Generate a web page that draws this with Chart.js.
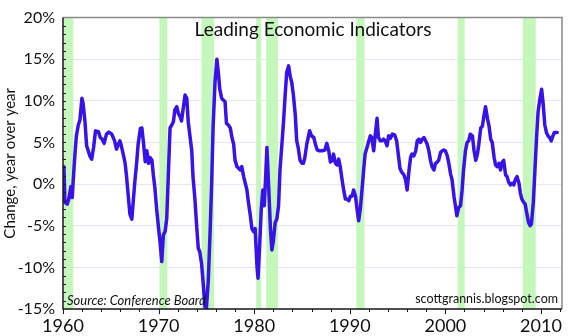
<!DOCTYPE html>
<html>
<head>
<meta charset="utf-8">
<script src="https://cdn.jsdelivr.net/npm/chart.js@4.4.1/dist/chart.umd.min.js"></script>
<style>
  html, body { margin: 0; padding: 0; background: #fff; }
  #wrap { width: 574px; height: 336px; }
</style>
</head>
<body>
<div id="wrap"><canvas id="leiChart" width="574" height="336"></canvas></div>
<script>
// --- Leading Economic Indicators, year over year change ---

// decimal year of each reading
const dates = [
    1960.1, 1960.2, 1960.45, 1960.6, 1960.83, 1960.97, 1961.05, 1961.25, 1961.4, 1961.6,
    1961.77, 1961.98, 1962.1, 1962.3, 1962.47, 1962.64, 1962.8, 1963.0, 1963.2, 1963.4,
    1963.7, 1963.9, 1964.1, 1964.3, 1964.55, 1964.8, 1965.1, 1965.25, 1965.4, 1965.6,
    1965.8, 1965.95, 1966.1, 1966.3, 1966.5, 1966.65, 1966.8, 1967.0, 1967.2, 1967.34,
    1967.5, 1967.7, 1967.86, 1968.1, 1968.25, 1968.4, 1968.6, 1968.77, 1968.95, 1969.1,
    1969.3, 1969.45, 1969.6, 1969.8, 1970.0, 1970.15, 1970.33, 1970.5, 1970.68, 1970.85,
    1971.0, 1971.2, 1971.38, 1971.55, 1971.7, 1971.9, 1972.07, 1972.25, 1972.4, 1972.6,
    1972.77, 1972.95, 1973.1, 1973.3, 1973.47, 1973.6, 1973.8, 1974.0, 1974.15, 1974.3,
    1974.5, 1974.7, 1974.85, 1975.0, 1975.2, 1975.4, 1975.55, 1975.7, 1975.9, 1976.1,
    1976.25, 1976.4, 1976.6, 1976.77, 1976.95, 1977.1, 1977.3, 1977.5, 1977.67, 1977.85,
    1978.0, 1978.2, 1978.37, 1978.55, 1978.7, 1978.9, 1979.07, 1979.24, 1979.4, 1979.6,
    1979.76, 1979.94, 1980.1, 1980.3, 1980.4, 1980.56, 1980.74, 1980.9, 1981.05, 1981.2,
    1981.33, 1981.5, 1981.7, 1981.85, 1982.0, 1982.2, 1982.37, 1982.55, 1982.7, 1982.9,
    1983.07, 1983.24, 1983.4, 1983.6, 1983.76, 1983.93, 1984.1, 1984.3, 1984.45, 1984.6,
    1984.8, 1985.0, 1985.15, 1985.3, 1985.5, 1985.8, 1986.0, 1986.23, 1986.4, 1986.6,
    1986.8, 1987.1, 1987.4, 1987.6, 1987.8, 1987.97, 1988.15, 1988.3, 1988.5, 1988.67,
    1988.84, 1989.0, 1989.2, 1989.36, 1989.54, 1989.7, 1989.9, 1990.06, 1990.24, 1990.4,
    1990.6, 1990.76, 1990.93, 1991.1, 1991.28, 1991.45, 1991.6, 1991.8, 1992.0, 1992.15,
    1992.3, 1992.5, 1992.67, 1992.85, 1993.0, 1993.2, 1993.37, 1993.54, 1993.7, 1993.9,
    1994.06, 1994.25, 1994.45, 1994.7, 1994.9, 1995.07, 1995.25, 1995.4, 1995.67, 1995.84,
    1996.0, 1996.2, 1996.36, 1996.5, 1996.7, 1996.9, 1997.06, 1997.23, 1997.4, 1997.58,
    1997.76, 1997.93, 1998.1, 1998.27, 1998.44, 1998.6, 1998.8, 1998.97, 1999.14, 1999.3,
    1999.5, 1999.66, 1999.84, 2000.0, 2000.2, 2000.36, 2000.53, 2000.7, 2000.9, 2001.05,
    2001.2, 2001.4, 2001.58, 2001.75, 2001.9, 2002.1, 2002.27, 2002.44, 2002.6, 2002.83,
    2003.0, 2003.18, 2003.35, 2003.5, 2003.7, 2003.87, 2004.05, 2004.2, 2004.4, 2004.57,
    2004.74, 2004.9, 2005.1, 2005.25, 2005.4, 2005.6, 2005.77, 2005.95, 2006.1, 2006.3,
    2006.46, 2006.6, 2006.8, 2007.0, 2007.15, 2007.3, 2007.5, 2007.7, 2007.84, 2008.0,
    2008.2, 2008.35, 2008.5, 2008.7, 2008.87, 2009.0, 2009.2, 2009.37, 2009.54, 2009.7,
    2009.9, 2010.07, 2010.24, 2010.4, 2010.57, 2010.74, 2010.9, 2011.07, 2011.25, 2011.4,
    2011.7
];

// % change from a year earlier
const leiChange = [
    2.1, -2.2, -2.4, -1.8, -0.3, -1.6, 0.1, 3.6, 5.8, 7.1,
    7.7, 10.3, 9.7, 7.5, 4.6, 4.0, 3.4, 3.0, 4.4, 6.4,
    6.3, 5.6, 5.4, 4.9, 6.0, 6.25, 6.0, 5.6, 5.2, 4.2,
    4.8, 5.2, 4.6, 3.6, 2.5, 0.9, -1.05, -3.6, -4.2, -2.2,
    0.1, 2.5, 4.8, 6.7, 6.75, 5.2, 2.7, 4.0, 2.5, 3.2,
    2.9, 1.1, -0.3, -3.0, -5.35, -6.9, -9.3, -6.1, -5.7, -4.2,
    0.5, 6.75, 7.1, 7.5, 8.9, 9.3, 8.5, 8.1, 7.6, 9.3,
    10.7, 10.3, 7.5, 5.6, 4.0, 0.9, -1.8, -5.35, -7.7, -8.1,
    -9.6, -12.4, -14.7, -14.9, -11.6, -5.35, 0.1, 6.75, 12.2, 15.0,
    13.4, 11.4, 10.3, 10.1, 9.9, 7.3, 7.1, 6.75, 5.6, 4.8,
    2.85, 2.1, 1.9, 1.7, 2.1, 0.9, 0.1, -0.7, -2.2, -3.8,
    -5.35, -5.7, -5.35, -10.0, -11.3, -7.7, -3.0, -0.7, -2.6, 0.9,
    4.4, 0.1, -5.35, -7.9, -6.9, -4.6, -4.2, -2.6, 1.7, 4.8,
    7.5, 10.7, 13.4, 14.2, 13.0, 12.2, 10.7, 8.3, 5.2, 4.4,
    2.85, 2.5, 2.5, 3.2, 4.8, 6.4, 5.8, 5.6, 4.8, 4.1,
    4.0, 4.0, 4.1, 4.9, 4.0, 2.65, 2.85, 3.6, 2.5, 2.3,
    3.0, 2.1, 0.5, -0.7, -1.8, -1.8, -2.0, -1.45, -1.45, -0.7,
    -1.45, -3.0, -4.4, -3.0, -0.7, 1.7, 3.6, 4.4, 5.2, 5.8,
    5.6, 4.0, 6.0, 7.9, 5.6, 5.2, 5.2, 5.4, 5.2, 4.6,
    5.8, 5.5, 6.0, 5.9, 5.2, 3.6, 1.9, 1.5, 1.1, 0.5,
    -0.7, 1.7, 3.2, 3.6, 3.4, 4.0, 5.2, 5.4, 5.0, 5.4,
    5.6, 5.2, 4.8, 4.0, 2.85, 2.1, 1.7, 2.5, 2.65, 2.85,
    3.8, 4.0, 4.1, 4.0, 3.4, 2.5, 1.3, 0.5, -1.45, -2.6,
    -3.8, -2.8, -2.6, -0.7, 1.7, 4.0, 5.0, 5.2, 6.0, 5.8,
    4.0, 2.85, 3.6, 4.8, 6.75, 6.95, 8.3, 9.3, 7.9, 6.95,
    5.4, 5.0, 3.2, 2.3, 2.1, 2.5, 1.7, 2.65, 2.85, 1.1,
    0.9, 0.3, -0.1, 0.1, -0.1, 0.5, 0.9, 0.1, -1.05, -1.8,
    -2.2, -2.4, -3.4, -4.6, -5.0, -4.8, -2.2, 1.7, 5.6, 8.7,
    10.3, 11.4, 9.5, 7.1, 6.2, 5.8, 5.6, 5.2, 5.8, 6.2,
    6.2
];

// recession periods (shaded)
const recessionStart = [1960.03, 1970.08, 1974.5, 1980.2, 1981.26, 1990.68, 2001.29, 2008.1];
const recessionEnd   = [1961.08, 1970.92, 1975.8, 1980.73, 1982.48, 1991.55, 2002.02, 2009.45];

// axis ranges and tick steps
const yearRange = [1960, 2012.2];
const pctRange = [-15, 20];
const yearStep = 10;
const pctStep = 5;

const FONT = 'Lato, "Open Sans", sans-serif';
const LINE_COLOR = '#3812e6';
const BAND_COLOR = '#c5f7bc';

// green recession bars + frame, minor ticks, title and credits
const decorations = {
    id: 'decorations',
    beforeDatasetsDraw(chart) {
        const { ctx, chartArea: area, scales: { x } } = chart;
        ctx.save();
        ctx.fillStyle = BAND_COLOR;
        recessionStart.forEach((start, i) => {
            const x0 = Math.max(x.getPixelForValue(start), area.left);
            const x1 = x.getPixelForValue(recessionEnd[i]);
            ctx.fillRect(x0, area.top, x1 - x0, area.bottom - area.top);
        });
        ctx.restore();
    },
    afterDatasetsDraw(chart) {
        const { ctx, chartArea: area, scales: { x, y } } = chart;
        ctx.save();

        // top and right frame
        ctx.strokeStyle = '#8a8a8a';
        ctx.lineWidth = 1.5;
        ctx.beginPath();
        ctx.moveTo(area.left, area.top);
        ctx.lineTo(area.right, area.top);
        ctx.lineTo(area.right, area.bottom);
        ctx.stroke();

        // left and bottom axis lines
        ctx.strokeStyle = '#1a1a1a';
        ctx.beginPath();
        ctx.moveTo(area.left, area.top);
        ctx.lineTo(area.left, area.bottom);
        ctx.lineTo(area.right, area.bottom);
        ctx.stroke();

        // minor ticks: every 1% inside the left axis
        ctx.lineWidth = 1;
        ctx.beginPath();
        for (let v = pctRange[0] + 1; v < pctRange[1]; v++) {
            const py = Math.round(y.getPixelForValue(v)) + 0.5;
            ctx.moveTo(area.left, py);
            ctx.lineTo(area.left + 3, py);
        }
        // every 2 years below the bottom axis, longer at decades
        for (let yr = yearRange[0]; yr <= yearRange[1]; yr += 2) {
            const px = Math.round(x.getPixelForValue(yr)) + 0.5;
            ctx.moveTo(px, area.bottom);
            ctx.lineTo(px, area.bottom + (yr % yearStep === 0 ? 5 : 3));
        }
        ctx.stroke();

        // title and credits
        ctx.fillStyle = '#111';
        ctx.textBaseline = 'alphabetic';
        ctx.textAlign = 'center';
        ctx.font = '19px ' + FONT;
        ctx.fillText('Leading Economic Indicators', 313, 36);

        ctx.textAlign = 'left';
        ctx.font = 'italic 13px ' + FONT;
        ctx.fillText('Source: Conference Board', 67, 305);

        ctx.textAlign = 'right';
        ctx.font = '12.5px ' + FONT;
        ctx.fillText('scottgrannis.blogspot.com', 558, 303);
        ctx.restore();
    }
};

const ctx = document.getElementById('leiChart');

new Chart(ctx, {
    type: 'line',
    data: {
        datasets: [{
            label: 'LEI, % change y/y',
            data: dates.map((d, i) => ({ x: d, y: leiChange[i] })),
            borderColor: LINE_COLOR,
            borderWidth: 3.5,
            pointRadius: 0,
            tension: 0,
            fill: false,
            borderJoinStyle: 'round',
            borderCapStyle: 'round'
        }]
    },
    options: {
        responsive: false,
        animation: false,
        devicePixelRatio: 1,
        layout: { padding: { top: 10, right: 12, left: 0, bottom: 0 } },
        plugins: {
            legend: { display: false },
            tooltip: { enabled: false }
        },
        scales: {
            x: {
                type: 'linear',
                min: yearRange[0],
                max: yearRange[1],
                border: { display: false },
                grid: { display: false, drawTicks: false },
                ticks: {
                    stepSize: yearStep,
                    includeBounds: false,
                    maxRotation: 0,
                    padding: 6,
                    color: '#111',
                    font: { family: FONT, size: 18 },
                    callback: v => (v % yearStep === 0 ? String(v) : '')
                },
                afterFit: s => { s.height = 27; }
            },
            y: {
                min: pctRange[0],
                max: pctRange[1],
                border: { display: false },
                grid: { color: '#e3e6f4', lineWidth: 1, drawTicks: false },
                ticks: {
                    stepSize: pctStep,
                    padding: 8,
                    color: '#111',
                    font: { family: FONT, size: 16 },
                    callback: v => v + '%'
                },
                title: {
                    display: true,
                    text: 'Change, year over year',
                    color: '#111',
                    font: { family: FONT, size: 15 },
                    padding: { top: 1, bottom: 0 }
                },
                afterFit: s => { s.width = 63; }
            }
        }
    },
    plugins: [decorations]
});
</script>
</body>
</html>
